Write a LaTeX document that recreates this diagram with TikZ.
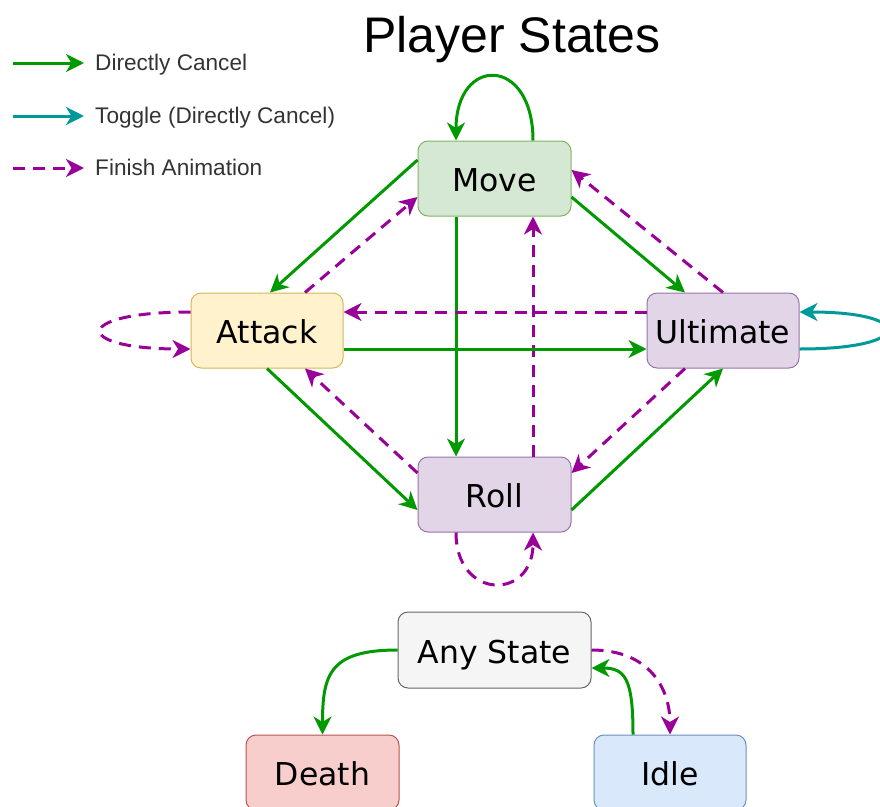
\documentclass[tikz,border=0pt]{standalone}
\usepackage{fontspec}
\usetikzlibrary{arrows.meta,calc}
\newfontfamily\djv{DejaVu Sans}
\newfontfamily\lib{Liberation Sans}
\definecolor{cgreen}{HTML}{009900}
\definecolor{cteal}{HTML}{009999}
\definecolor{cpurple}{HTML}{990099}
\tikzset{
  statebox/.style={draw, line width=1pt, rounded corners=10pt, minimum width=153pt, minimum height=75pt,
    inner sep=0pt, font=\djv\fontsize{31.5}{36}\selectfont, text height=26.5pt, text depth=0pt},
  tipstyle/.style={-{Stealth[length=18pt,width=18pt,inset=5.5pt]}},
  dc/.style={tipstyle, draw=cgreen, line width=3pt, line join=round},
  tg/.style={tipstyle, draw=cteal, line width=3pt, line join=round},
  fa/.style={tipstyle, draw=cpurple, line width=3pt, dash pattern=on 12pt off 8pt, line join=round},
  legtext/.style={anchor=base west, inner sep=0pt, font=\lib\fontsize{22.6}{26}\selectfont, text=black!80},
}
\begin{document}
\begin{tikzpicture}[x=1pt,y=-1pt]
\useasboundingbox (0,0) rectangle (880,806);
\clip (0,0) rectangle (880,806);

% title
\node[anchor=base, inner sep=0pt, font=\lib\fontsize{50}{56}\selectfont] (title) at (512,52) {Player States};

% legend
\node[legtext] (l1t) at (95,70.5) {Directly Cancel};
\node[legtext] (l2t) at (95,123) {Toggle (Directly Cancel)};
\node[legtext] (l3t) at (95,175.5) {Finish Animation};
\coordinate (l1s) at (13,63); \coordinate (l1e) at (84,63);
\coordinate (l2s) at (13,116); \coordinate (l2e) at (84,116);
\coordinate (l3s) at (13,168); \coordinate (l3e) at (84,168);
\draw[dc] (l1s) -- (l1e);
\draw[tg] (l2s) -- (l2e);
\draw[fa] (l3s) -- (l3e);

% states
\node[statebox, fill={rgb,255:red,213;green,232;blue,212}, draw={rgb,255:red,130;green,179;blue,102}] (move) at (494.5,178.5) {Move};
\node[statebox, minimum width=152pt, fill={rgb,255:red,255;green,242;blue,204}, draw={rgb,255:red,214;green,182;blue,86}] (attack) at (267,330.5) {Attack};
\node[statebox, minimum width=152pt, fill={rgb,255:red,225;green,213;blue,231}, draw={rgb,255:red,150;green,115;blue,166}] (ult) at (723,330.5) {Ultimate};
\node[statebox, fill={rgb,255:red,225;green,213;blue,231}, draw={rgb,255:red,150;green,115;blue,166}] (roll) at (494.5,494.5) {Roll};
\node[statebox, minimum width=193pt, minimum height=76pt, fill={rgb,255:red,245;green,245;blue,245}, draw={rgb,255:red,102;green,102;blue,102}] (any) at (494.5,650) {Any State};
\node[statebox, fill={rgb,255:red,248;green,206;blue,204}, draw={rgb,255:red,184;green,84;blue,80}] (death) at (322.5,772.5) {Death};
\node[statebox, minimum width=152pt, fill={rgb,255:red,218;green,232;blue,252}, draw={rgb,255:red,108;green,142;blue,191}] (idle) at (670,772.5) {Idle};

% loops
\draw[dc] ([xshift=38.5pt]move.north) .. controls +(0,-85) and +(0,-85) .. ([xshift=-38.5pt]move.north);
\draw[fa] ([yshift=18.5pt]attack.west) .. controls +(-119,0) and +(-119,0) .. ([yshift=-18.5pt]attack.west);
\draw[tg] ([yshift=-18.5pt]ult.east) .. controls +(116,0) and +(116,0) .. ([yshift=18.5pt]ult.east);
\draw[fa] ([xshift=-38.5pt]roll.south) .. controls +(0,68) and +(0,68) .. ([xshift=38.5pt]roll.south);

% move <-> attack
\draw[dc] ([yshift=18.5pt]move.west) -- ([xshift=3pt]attack.north);
\draw[fa] ([xshift=38pt]attack.north) -- ([yshift=-18.5pt]move.west);
% move <-> ultimate
\draw[dc] ([yshift=-18.5pt]move.east) -- ([xshift=-38pt]ult.north);
\draw[fa] (ult.north) -- ([yshift=8.5pt]move.east);
% move <-> roll
\draw[dc] ([xshift=-38.5pt]move.south) -- ([xshift=-38.5pt]roll.north);
\draw[fa] ([xshift=38.5pt]roll.north) -- ([xshift=38.5pt]move.south);
% attack <-> ultimate
\draw[fa] ([yshift=18.5pt]ult.west) -- ([yshift=18.5pt]attack.east);
\draw[dc] ([yshift=-18.5pt]attack.east) -- ([yshift=-18.5pt]ult.west);
% attack <-> roll
\draw[dc] (attack.south) -- ([yshift=-15.5pt]roll.west);
\draw[fa] ([yshift=21.5pt]roll.west) -- ([xshift=38pt]attack.south);
% ultimate <-> roll
\draw[fa] ([xshift=-38pt]ult.south) -- ([yshift=21.5pt]roll.east);
\draw[dc] ([yshift=-15.5pt]roll.east) -- (ult.south);

% any state
\draw[dc] (any.west) .. controls +(-68,0) and +(0,-60) .. (death.north);
\draw[dc] ([xshift=-37pt]idle.north) .. controls +(0,-55) and +(34,0) .. ([yshift=-18pt]any.east);
\draw[fa] (any.east) .. controls +(59,0) and +(0,-45) .. (idle.north);
\end{tikzpicture}
\end{document}
